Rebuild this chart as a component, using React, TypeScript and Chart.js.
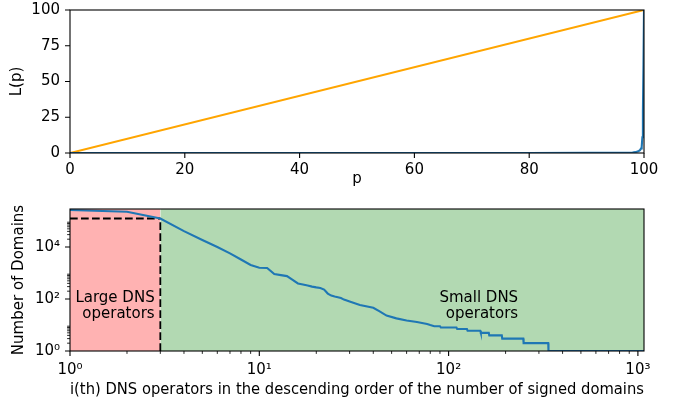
import React, { useEffect, useRef } from "react";
import { Chart, registerables } from "chart.js";

Chart.register(...registerables);

// ---------------- data ----------------
// Top panel: Lorenz curve of signed domains over DNS operators (percent)
const P_SHARE = [0, 50, 80, 90, 95, 97, 98, 98.5, 99, 99.3, 99.5, 99.6, 99.72, 99.81, 99.91, 100];
const L_SHARE = [0, 0.01, 0.03, 0.06, 0.12, 0.2, 0.35, 0.6, 1.2, 2.0, 3.2, 4.5, 11, 29, 62, 100];
const EQUALITY_P = [0, 100];
const EQUALITY_L = [0, 100];
const P_TICKS = [0, 20, 40, 60, 80, 100];
const L_TICKS = [0, 25, 50, 75, 100];

// Bottom panel: number of signed domains by operator rank
const OPERATOR_RANK = [
  1, 2, 3, 4, 5, 6, 7, 8, 9, 10, 11, 12, 13, 14, 15, 16, 17, 18, 19, 20, 21, 22, 23, 24, 25, 26, 27, 28, 30,
  34, 40, 43, 47, 53, 60, 68, 77, 80, 84, 90, 91, 110, 111, 125, 126, 147, 148, 163, 164, 191, 192, 248, 249,
  336, 337, 1077,
];
const SIGNED_DOMAINS = [
  265000, 228000, 125000, 41000, 18600, 10000, 5700, 3300, 2040, 1590, 1570, 910, 830, 760, 540, 395, 360, 330,
  300, 280, 265, 230, 162, 135, 124, 117, 109, 95, 80,
  59, 46, 34, 23, 18, 15, 13, 11, 10, 9, 9, 8, 8, 7, 7, 6, 6, 5, 5, 4, 4, 3, 3, 2,
  2, 1, 1,
];
const RANK_MAX = 1077;
const DOMAINS_MAX = 290000;
const LARGE_RANGE = [1, 3];
const SMALL_RANGE = [3, RANK_MAX];
const CUTOFF_RANK = 3;
const RANK_MAJOR = [1, 10, 100, 1000];
const RANK_MINOR_SUBS = [2, 3, 4, 5, 6, 7, 8, 9];
const RANK_MINOR_DECADES = [1, 10, 100];
const DOMAIN_MAJOR = [1, 100, 10000];
const DOMAIN_MINOR_DECADES = [1, 100, 10000];
const LARGE_LABEL = ["Large DNS", "operators"];
const SMALL_LABEL = ["Small DNS", "operators"];
const LARGE_LABEL_AT = [2.8, 54];
const SMALL_LABEL_AT = [233, 54];

// ---------------- styling ----------------
const FONT = '"DejaVu Sans", sans-serif';
const FS = 15;
const BLUE = "#1f77b4";
const ORANGE = "#ffa500";

const SUP: Record<string, string> = {
  "0": "\u2070", "1": "\u00b9", "2": "\u00b2", "3": "\u00b3", "4": "\u2074",
  "5": "\u2075", "6": "\u2076", "7": "\u2077", "8": "\u2078", "9": "\u2079", "-": "\u207b",
};
const pow10Label = (v: number) =>
  "10" + String(Math.round(Math.log10(v))).split("").map((c) => SUP[c]).join("");

const mplAxes = {
  id: "mplAxes",
  afterDatasetsDraw(chart: any, _args: any, opts: any) {
    const { ctx, chartArea: a, scales } = chart;
    const x = scales.x;
    const y = scales.y;
    ctx.save();
    // annotations
    ctx.fillStyle = "#000";
    ctx.font = `${FS}px ${FONT}`;
    ctx.textAlign = "right";
    ctx.textBaseline = "middle";
    for (const n of opts.notes || []) {
      const px = x.getPixelForValue(n.at[0]);
      const py = y.getPixelForValue(n.at[1]);
      const lh = 16.5;
      const y0 = py - ((n.lines.length - 1) * lh) / 2;
      n.lines.forEach((t: string, i: number) => ctx.fillText(t, px, y0 + i * lh));
    }
    ctx.strokeStyle = "#000";
    // major ticks
    ctx.lineWidth = 1.1;
    ctx.beginPath();
    for (const v of opts.xMajor) {
      const p = x.getPixelForValue(v);
      ctx.moveTo(p, a.bottom);
      ctx.lineTo(p, a.bottom + 5);
    }
    for (const v of opts.yMajor) {
      const p = y.getPixelForValue(v);
      ctx.moveTo(a.left, p);
      ctx.lineTo(a.left - 5, p);
    }
    ctx.stroke();
    // minor ticks
    ctx.lineWidth = 0.85;
    ctx.beginPath();
    for (const v of opts.xMinor || []) {
      if (v > x.max) continue;
      const p = x.getPixelForValue(v);
      ctx.moveTo(p, a.bottom);
      ctx.lineTo(p, a.bottom + 2.9);
    }
    for (const v of opts.yMinor || []) {
      if (v > y.max) continue;
      const p = y.getPixelForValue(v);
      ctx.moveTo(a.left, p);
      ctx.lineTo(a.left - 2.9, p);
    }
    ctx.stroke();
    // frame
    ctx.lineWidth = 1.1;
    ctx.strokeRect(a.left, a.top, a.right - a.left, a.bottom - a.top);
    ctx.restore();
  },
};

const fitX = (h: number) => (s: any) => {
  s.height = h;
  s.paddingLeft = 0;
  s.paddingRight = 0;
};
const fitY = (w: number) => (s: any) => {
  s.width = w;
  s.paddingTop = 0;
  s.paddingBottom = 0;
};

const font = { family: FONT, size: FS };

function topConfig(): any {
  return {
    type: "line",
    data: {
      datasets: [
        {
          data: P_SHARE.map((p, i) => ({ x: p, y: L_SHARE[i] })),
          borderColor: BLUE,
          borderWidth: 2.1,
          pointRadius: 0,
          tension: 0,
        },
        {
          data: EQUALITY_P.map((p, i) => ({ x: p, y: EQUALITY_L[i] })),
          borderColor: ORANGE,
          borderWidth: 2.1,
          pointRadius: 0,
          tension: 0,
        },
      ],
    },
    options: {
      animation: false,
      responsive: false,
      devicePixelRatio: 1,
      events: [],
      layout: { padding: { left: 0, top: 10, right: 37, bottom: 0 } },
      plugins: {
        legend: { display: false },
        tooltip: { enabled: false },
        mplAxes: { xMajor: P_TICKS, yMajor: L_TICKS },
      },
      scales: {
        x: {
          type: "linear",
          min: 0,
          max: 100,
          afterBuildTicks: (s: any) => (s.ticks = P_TICKS.map((v) => ({ value: v }))),
          afterFit: fitX(42),
          grid: { display: false, drawTicks: false },
          border: { display: false },
          ticks: { font, color: "#000", padding: 7.8, maxRotation: 0, autoSkip: false },
          title: { display: true, text: "p", font, color: "#000", padding: { top: 0, bottom: 6.5 } },
        },
        y: {
          type: "linear",
          min: 0,
          max: 100,
          afterBuildTicks: (s: any) => (s.ticks = L_TICKS.map((v) => ({ value: v }))),
          afterFit: fitY(70),
          grid: { display: false, drawTicks: false },
          border: { display: false },
          ticks: { font, color: "#000", padding: 10, autoSkip: false },
          title: { display: true, text: "L(p)", font, color: "#000", padding: { top: 8.5, bottom: 0 } },
        },
      },
    },
    plugins: [mplAxes],
  };
}

function bottomConfig(): any {
  const rankMinor: number[] = [];
  RANK_MINOR_DECADES.forEach((d) => RANK_MINOR_SUBS.forEach((s) => rankMinor.push(s * d)));
  const domMinor: number[] = [];
  DOMAIN_MINOR_DECADES.forEach((d) => RANK_MINOR_SUBS.forEach((s) => domMinor.push(s * d)));
  const cutoffDomains = SIGNED_DOMAINS[OPERATOR_RANK.indexOf(CUTOFF_RANK)];
  return {
    type: "line",
    data: {
      datasets: [
        {
          data: OPERATOR_RANK.map((r, i) => ({ x: r, y: SIGNED_DOMAINS[i] })),
          borderColor: BLUE,
          borderWidth: 2.1,
          pointRadius: 0,
          tension: 0,
        },
        {
          data: [
            { x: CUTOFF_RANK, y: 1 },
            { x: CUTOFF_RANK, y: cutoffDomains },
          ],
          borderColor: "#000",
          borderWidth: 1.8,
          borderDash: [7.7, 3.3],
          pointRadius: 0,
        },
        {
          data: [
            { x: 1, y: cutoffDomains },
            { x: CUTOFF_RANK, y: cutoffDomains },
          ],
          borderColor: "#000",
          borderWidth: 1.8,
          borderDash: [7.7, 3.3],
          pointRadius: 0,
        },
        {
          data: LARGE_RANGE.map((r) => ({ x: r, y: DOMAINS_MAX })),
          borderWidth: 0,
          borderColor: "rgba(0,0,0,0)",
          backgroundColor: "rgba(255,0,0,0.3)",
          fill: "start",
          pointRadius: 0,
        },
        {
          data: SMALL_RANGE.map((r) => ({ x: r, y: DOMAINS_MAX })),
          borderWidth: 0,
          borderColor: "rgba(0,0,0,0)",
          backgroundColor: "rgba(0,128,0,0.3)",
          fill: "start",
          pointRadius: 0,
        },
      ],
    },
    options: {
      animation: false,
      responsive: false,
      devicePixelRatio: 1,
      events: [],
      layout: { padding: { left: 0, top: 14, right: 37, bottom: 0 } },
      plugins: {
        legend: { display: false },
        tooltip: { enabled: false },
        mplAxes: {
          xMajor: RANK_MAJOR,
          yMajor: DOMAIN_MAJOR,
          xMinor: rankMinor,
          yMinor: domMinor,
          notes: [
            { at: LARGE_LABEL_AT, lines: LARGE_LABEL },
            { at: SMALL_LABEL_AT, lines: SMALL_LABEL },
          ],
        },
      },
      scales: {
        x: {
          type: "logarithmic",
          min: 1,
          max: RANK_MAX,
          afterBuildTicks: (s: any) => (s.ticks = RANK_MAJOR.map((v) => ({ value: v }))),
          afterFit: fitX(51),
          grid: { display: false, drawTicks: false },
          border: { display: false },
          ticks: {
            font,
            color: "#000",
            padding: 9.8,
            maxRotation: 0,
            autoSkip: false,
            callback: (v: any) => pow10Label(Number(v)),
          },
          title: {
            display: true,
            text: "i(th) DNS operators in the descending order of the number of signed domains",
            font,
            color: "#000",
            padding: { top: 0, bottom: 3.3 },
          },
        },
        y: {
          type: "logarithmic",
          min: 1,
          max: DOMAINS_MAX,
          afterBuildTicks: (s: any) => (s.ticks = DOMAIN_MAJOR.map((v) => ({ value: v }))),
          afterFit: fitY(70),
          grid: { display: false, drawTicks: false },
          border: { display: false },
          ticks: {
            font,
            color: "#000",
            padding: 10,
            autoSkip: false,
            callback: (v: any) => pow10Label(Number(v)),
          },
          title: {
            display: true,
            text: "Number of Domains",
            font,
            color: "#000",
            padding: { top: 9.8, bottom: 0 },
          },
        },
      },
    },
    plugins: [mplAxes],
  };
}

function ChartCanvas({ make, top, height }: { make: () => any; top: number; height: number }) {
  const ref = useRef<HTMLCanvasElement>(null);
  useEffect(() => {
    const chart = new Chart(ref.current as HTMLCanvasElement, make());
    return () => chart.destroy();
  }, [make]);
  return (
    <canvas
      ref={ref}
      width={681}
      height={height}
      style={{ position: "absolute", left: 0, top, width: 681, height, display: "block" }}
    />
  );
}

export default function App() {
  return (
    <div style={{ position: "absolute", left: 0, top: 0, width: 681, height: 402, background: "#fff" }}>
      <ChartCanvas make={topConfig} top={0} height={195} />
      <ChartCanvas make={bottomConfig} top={195} height={207} />
    </div>
  );
}
